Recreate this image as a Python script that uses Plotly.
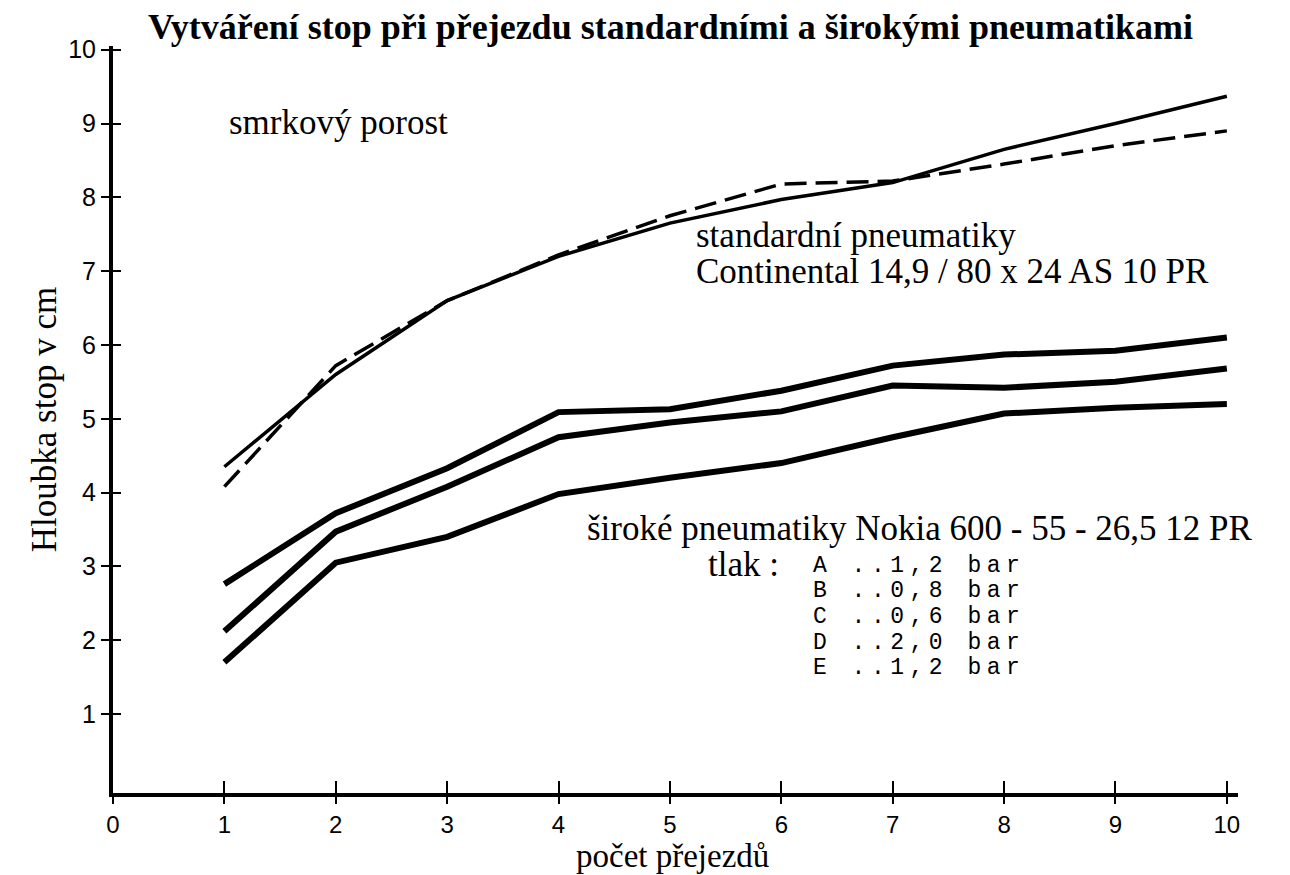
import plotly.graph_objects as go

# ---- data ----
passes = [1, 2, 3, 4, 5, 6, 7, 8, 9, 10]
series_A = [2.76, 3.72, 4.33, 5.09, 5.13, 5.38, 5.72, 5.87, 5.92, 6.10]
series_B = [2.12, 3.47, 4.08, 4.75, 4.95, 5.10, 5.45, 5.42, 5.50, 5.68]
series_C = [1.70, 3.05, 3.40, 3.98, 4.20, 4.40, 4.75, 5.07, 5.15, 5.20]
series_D = [4.35, 5.60, 6.60, 7.20, 7.65, 7.97, 8.20, 8.65, 9.00, 9.37]
series_E = [4.08, 5.72, 6.60, 7.22, 7.75, 8.18, 8.22, 8.45, 8.70, 8.90]
x_ticks = [0, 1, 2, 3, 4, 5, 6, 7, 8, 9, 10]
y_ticks = [1, 2, 3, 4, 5, 6, 7, 8, 9, 10]
pressure_lines = ["A ..1,2 bar", "B ..0,8 bar", "C ..0,6 bar", "D ..2,0 bar", "E ..1,2 bar"]
curve_labels = ["D", "E", "A", "B", "C"]

SERIF = "Liberation Serif, Times New Roman, serif"
SANS = "Liberation Sans Narrow, Liberation Sans, Arial, sans-serif"
MONO = "Liberation Mono, DejaVu Sans Mono, monospace"

fig = go.Figure()
fig.add_trace(go.Scatter(x=passes, y=series_D, mode="lines", line=dict(color="black", width=3.5), showlegend=False))
fig.add_trace(go.Scatter(x=passes, y=series_E, mode="lines", line=dict(color="black", width=3.5, dash="22px,9px"), showlegend=False))
for s in (series_A, series_B, series_C):
    fig.add_trace(go.Scatter(x=passes, y=s, mode="lines", line=dict(color="black", width=6), showlegend=False))
# dummy trace for the mirrored tick axes
fig.add_trace(go.Scatter(x=[None], y=[None], xaxis="x2", yaxis="y2", showlegend=False))

ann = []
ann.append(dict(text="<b>Vytváření stop při přejezdu standardními a širokými pneumatikami</b>",
                xref="paper", yref="paper", x=0.029, y=1.026, xanchor="left", yanchor="middle",
                showarrow=False, font=dict(family=SERIF, size=36, color="black")))
ann.append(dict(text="počet přejezdů", xref="paper", yref="paper", x=0.497, y=-0.085,
                xanchor="center", yanchor="middle", showarrow=False,
                font=dict(family=SERIF, size=33, color="black")))
texts = [
    ("smrkový porost", 1.02, 9.02),
    ("standardní pneumatiky", 5.22, 7.48),
    ("Continental 14,9 / 80 x 24 AS 10 PR", 5.22, 7.0),
    ("široké pneumatiky Nokia 600 - 55 - 26,5 12 PR", 4.24, 3.51),
    ("tlak :", 5.32, 3.03),
]
for t, x, y in texts:
    ann.append(dict(text=t, x=x, y=y, xref="x", yref="y", xanchor="left", yanchor="middle",
                    showarrow=False, font=dict(family=SERIF, size=35, color="black")))
mono_y = [3.01, 2.66, 2.31, 1.96, 1.62]
for t, y in zip(pressure_lines, mono_y):
    ann.append(dict(text='<span style="letter-spacing:5.5px">' + t + '</span>', x=6.27, y=y,
                    xref="x", yref="y", xanchor="left", yanchor="middle",
                    showarrow=False, font=dict(family=MONO, size=23, color="black")))
label_y = [9.44, 8.97, 6.17, 5.69, 5.19]
for t, y in zip(curve_labels, label_y):
    ann.append(dict(text=t, x=10.14, y=y, xref="x", yref="y", xanchor="left", yanchor="middle",
                    showarrow=False, font=dict(family="Liberation Sans, Arial, sans-serif", size=21, color="black")))

axis_common = dict(showgrid=False, zeroline=False, linecolor="black", tickcolor="black")
fig.update_layout(
    width=1290, height=875,
    margin=dict(l=105, r=60, t=38, b=90),
    paper_bgcolor="white", plot_bgcolor="white",
    annotations=ann,
    xaxis=dict(range=[0, 10.1], tickvals=x_ticks, ticks="outside", ticklen=7, tickwidth=2,
               showline=True, linewidth=4, mirror=False,
               tickfont=dict(family=SANS, size=24, color="black"),
               **axis_common),
    yaxis=dict(range=[-0.07, 10.05], tickvals=y_ticks, ticks="outside", ticklen=8, tickwidth=2,
               showline=True, linewidth=4,
               tickfont=dict(family=SANS, size=25, color="black"),
               title=dict(text="Hloubka stop v cm", font=dict(family=SERIF, size=35, color="black"), standoff=2),
               **axis_common),
    xaxis2=dict(range=[0, 10.1], tickvals=x_ticks[1:], ticks="inside", ticklen=12, tickwidth=2,
                showticklabels=False, overlaying="x", anchor="y2", showline=False, **axis_common),
    yaxis2=dict(range=[-0.07, 10.05], tickvals=y_ticks, ticks="inside", ticklen=8, tickwidth=2,
                showticklabels=False, overlaying="y", anchor="x2", side="left", showline=False, **axis_common),
)

fig.write_html("out.html")
